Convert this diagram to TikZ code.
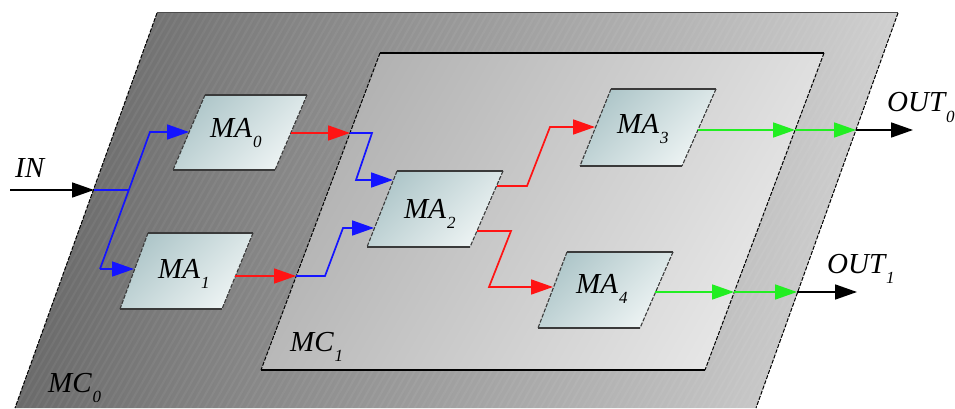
\documentclass[tikz,border=0pt]{standalone}
\usepackage{fontspec}
\setmainfont{Liberation Serif}
\usetikzlibrary{arrows.meta}
\definecolor{mcdark}{HTML}{6A6A6A}
\definecolor{mclight}{HTML}{D0D0D0}
\definecolor{mcidark}{HTML}{B0B0B0}
\definecolor{mcilight}{HTML}{E8E8E8}
\definecolor{madark}{HTML}{AEC6C9}
\definecolor{malight}{HTML}{EEF4F4}
\definecolor{maedge}{HTML}{3A3A3A}
\definecolor{wblue}{HTML}{1414FF}
\definecolor{wred}{HTML}{FF1414}
\definecolor{wgreen}{HTML}{22EE22}
\newcommand{\sbs}[1]{\kern1pt\raisebox{-10pt}{\fontsize{17}{17}\selectfont #1}}
\newcommand{\drawma}[4]{%
  \shade[mabox] (#1) -- (#2) -- (#3) -- (#4) -- cycle;
  \draw[maline] (#1) -- (#2) (#4) -- (#3);
  \draw[maslant] (#1) -- (#4) (#2) -- (#3);}
\begin{document}
\begin{tikzpicture}[x=1pt,y=-1pt,
  lbl/.style={anchor=base west, inner sep=0pt, font=\fontsize{29}{29}\selectfont\itshape},
  wire/.style={line width=1.7pt},
  tip/.style={-{Triangle[length=22pt,width=15pt]}},
  bw/.style={wire, wblue}, rw/.style={wire, wred}, gw/.style={wire, wgreen}, kw/.style={wire, black},
  slantedge/.style={black, dash pattern=on 4pt off 1.5pt, line width=1pt},
  maline/.style={maedge, line width=1.4pt},
  maslant/.style={maedge, dash pattern=on 4pt off 1.5pt, line width=1.1pt},
  mabox/.style={top color=madark, bottom color=malight, shading angle=45}
]
\useasboundingbox (0,0) rectangle (955,409);
% ---- MC0 ----
\coordinate (c0a) at (157,13); \coordinate (c0b) at (898,13);
\coordinate (c0c) at (756,408); \coordinate (c0d) at (15,408);
\shade[top color=mcdark, bottom color=mclight, shading angle=80] (c0a) -- (c0b) -- (c0c) -- (c0d) -- cycle;
\begin{scope}
  \clip (c0a) -- (c0b) -- (c0c) -- (c0d) -- cycle;
  \foreach \i in {0,7,...,1150} \draw[white, opacity=0.05, line width=2pt] (\i-230,409) -- ++(230,-400);
\end{scope}
\draw[gray!60!black, line width=1pt] (c0a) -- (c0b);
\draw[slantedge] (c0a) -- (c0d) (c0b) -- (c0c);
% ---- MC1 ----
\coordinate (c1a) at (380,53); \coordinate (c1b) at (824,53);
\coordinate (c1c) at (705,370); \coordinate (c1d) at (261,370);
\shade[top color=mcidark, bottom color=mcilight, shading angle=60] (c1a) -- (c1b) -- (c1c) -- (c1d) -- cycle;
\draw[black, line width=1.3pt] (c1a) -- (c1b) (c1d) -- (c1c);
\draw[slantedge] (c1a) -- (c1d) (c1b) -- (c1c);
% ---- MA boxes ----
\coordinate (m0a) at (205,95);  \coordinate (m0b) at (307,95);  \coordinate (m0c) at (275,170); \coordinate (m0d) at (173,170);
\coordinate (m1a) at (148,233); \coordinate (m1b) at (253,233); \coordinate (m1c) at (222,309); \coordinate (m1d) at (120,309);
\coordinate (m2a) at (397,171); \coordinate (m2b) at (503,171); \coordinate (m2c) at (470,247); \coordinate (m2d) at (367,247);
\coordinate (m3a) at (611,89);  \coordinate (m3b) at (716,89);  \coordinate (m3c) at (682,166); \coordinate (m3d) at (580,166);
\coordinate (m4a) at (567,252); \coordinate (m4b) at (673,252); \coordinate (m4c) at (640,328); \coordinate (m4d) at (538,328);
\drawma{m0a}{m0b}{m0c}{m0d}
\drawma{m1a}{m1b}{m1c}{m1d}
\drawma{m2a}{m2b}{m2c}{m2d}
\drawma{m3a}{m3b}{m3c}{m3d}
\drawma{m4a}{m4b}{m4c}{m4d}
% ---- labels ----
\node[lbl] (lin)  at (15,177)  {IN};
\node[lbl] (lma0) at (210,137) {MA\sbs{0}};
\node[lbl] (lma1) at (158,278) {MA\sbs{1}};
\node[lbl] (lma2) at (404,218) {MA\sbs{2}};
\node[lbl] (lma3) at (617,133) {MA\sbs{3}};
\node[lbl] (lma4) at (576,293) {MA\sbs{4}};
\node[lbl] (lmc1) at (290,351) {MC\sbs{1}};
\node[lbl] (lmc0) at (48,392)  {MC\sbs{0}};
\node[lbl] (lout0) at (887,112) {OUT\sbs{0}};
\node[lbl] (lout1) at (827,273) {OUT\sbs{1}};
% ---- connection points ----
\coordinate (inS) at (10,190);   \coordinate (inT) at (94,190);
\coordinate (bj) at (129,190);   \coordinate (bt) at (150,132);  \coordinate (bb) at (100,269);
\coordinate (p0in) at (189,132); \coordinate (p1in) at (134,269);
\coordinate (p0out) at (291,133); \coordinate (e10) at (350,133);
\coordinate (k1) at (372,133); \coordinate (k2) at (356,180); \coordinate (p2in0) at (393,180);
\coordinate (p1out) at (235,276); \coordinate (e11) at (296,276);
\coordinate (k3) at (325,276); \coordinate (k4) at (343,228); \coordinate (p2in1) at (374,228);
\coordinate (p2out0) at (497,186); \coordinate (k5) at (527,186); \coordinate (k6) at (550,127); \coordinate (p3in) at (595,127);
\coordinate (p2out1) at (477,231); \coordinate (k7) at (511,231); \coordinate (k8) at (489,287); \coordinate (p4in) at (553,287);
\coordinate (p3out) at (698,130); \coordinate (e13) at (795,130); \coordinate (e03) at (856,130); \coordinate (o0) at (913,130);
\coordinate (p4out) at (655,292); \coordinate (e14) at (734,292); \coordinate (e04) at (797,292); \coordinate (o1) at (857,292);
% ---- connectors ----
\draw[kw,tip] (inS) -- (inT);
\draw[bw] (inT) -- (bj);
\draw[bw,tip] (bb) -- (bt) -- (p0in);
\draw[bw,tip] (bb) -- (p1in);
\draw[rw,tip] (p0out) -- (e10);
\draw[bw,tip] (e10) -- (k1) -- (k2) -- (p2in0);
\draw[rw,tip] (p1out) -- (e11);
\draw[bw,tip] (e11) -- (k3) -- (k4) -- (p2in1);
\draw[rw,tip] (p2out0) -- (k5) -- (k6) -- (p3in);
\draw[rw,tip] (p2out1) -- (k7) -- (k8) -- (p4in);
\draw[gw,tip] (p3out) -- (e13);
\draw[gw,tip] (e13) -- (e03);
\draw[kw,tip] (e03) -- (o0);
\draw[gw,tip] (p4out) -- (e14);
\draw[gw,tip] (e14) -- (e04);
\draw[kw,tip] (e04) -- (o1);
\end{tikzpicture}
\end{document}
